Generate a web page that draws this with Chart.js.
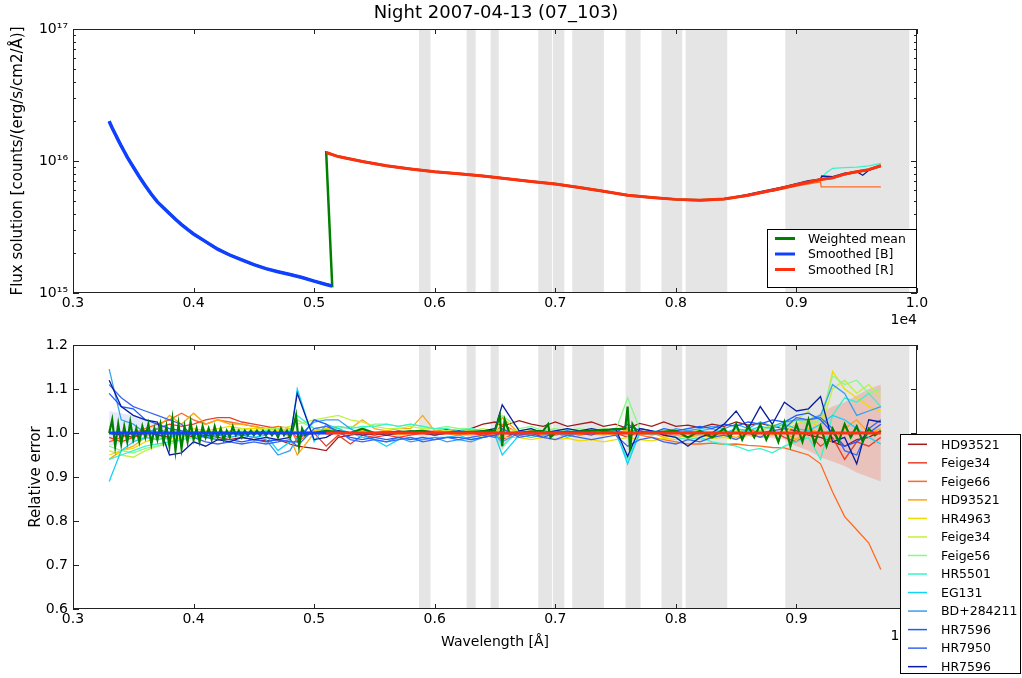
<!DOCTYPE html>
<html>
<head>
<meta charset="utf-8">
<script src="https://cdn.jsdelivr.net/npm/chart.js@4.4.1/dist/chart.umd.min.js"></script>
<style>
  html, body { margin: 0; padding: 0; background: #fff; }
  #wrap { position: relative; width: 1022px; height: 678px; }
  canvas { position: absolute; left: 0; }
  #fluxChart { top: 0; }
  #errChart { top: 330px; }
</style>
</head>
<body>
<div id="wrap">
  <canvas id="fluxChart" width="1022" height="330"></canvas>
  <canvas id="errChart" width="1022" height="348"></canvas>
</div>
<script>
// masked (telluric) regions, in Angstrom
var maskedBands = [[5870, 5965], [6265, 6339], [6464, 6531], [6859, 6972], [6980, 7075],
                   [7141, 7403], [7583, 7707], [7881, 8053], [8081, 8426], [8908, 9936]];

// ---- top panel: flux solution ----
var smoothBWave = [3300, 3325, 3350, 3375, 3400, 3425, 3450, 3475, 3500, 3550,
                   3600, 3650, 3700, 3750, 3800, 3850, 3900, 3950, 4000, 4100,
                   4200, 4300, 4400, 4500, 4600, 4700, 4800, 4900, 5000, 5100, 5150];
var smoothBFlux = [2.0e16, 1.78e16, 1.6e16, 1.44e16, 1.3e16, 1.18e16, 1.07e16, 9.8e15, 9.0e15, 7.6e15,
                   6.5e15, 5.6e15, 4.9e15, 4.43e15, 4.0e15, 3.62e15, 3.3e15, 3.03e15, 2.8e15, 2.45e15,
                   2.15e15, 1.94e15, 1.78e15, 1.64e15, 1.53e15, 1.45e15, 1.38e15, 1.31e15, 1.23e15, 1.16e15, 1.13e15];
var smoothRWave = [5100, 5200, 5400, 5600, 5800, 6000, 6200, 6400, 6600, 6800, 7000, 7200, 7400, 7600,
                   7800, 8000, 8200, 8400, 8600, 8800, 9000, 9200, 9300, 9400, 9500, 9600, 9700];
var smoothRFlux = [1.16e16, 1.08e16, 9.9e15, 9.2e15, 8.7e15, 8.3e15, 8.0e15, 7.7e15, 7.35e15, 7.0e15,
                   6.7e15, 6.3e15, 5.9e15, 5.5e15, 5.3e15, 5.12e15, 5.05e15, 5.15e15, 5.5e15, 6.0e15,
                   6.6e15, 7.25e15, 7.45e15, 7.95e15, 8.3e15, 8.6e15, 9.2e15];
var topFeige66Wave = [8800, 9000, 9200, 9205, 9700];
var topFeige66Flux = [5.9e15, 6.45e15, 6.95e15, 6.37e15, 6.37e15];
var topHR5501Wave = [9200, 9250, 9300, 9400, 9500, 9600, 9700];
var topHR5501Flux = [7.3e15, 8.2e15, 8.8e15, 8.9e15, 9.0e15, 9.2e15, 9.6e15];
var topHR7596Wave = [8500, 8700, 8900, 9100, 9200, 9210, 9300, 9400, 9500, 9550, 9600, 9700];
var topHR7596Flux = [5.35e15, 5.85e15, 6.4e15, 7.1e15, 7.3e15, 7.7e15, 7.6e15, 8.1e15, 8.3e15, 7.8e15, 8.5e15, 9.2e15];

// ---- bottom panel: relative error per standard star ----
var gridWave = [3300, 3400, 3500, 3600, 3700, 3800, 3900, 4000, 4100, 4200,
                4300, 4400, 4500, 4600, 4700, 4800, 4860, 5000, 5100, 5200,
                5300, 5400, 5500, 5600, 5700, 5800, 5900, 6000, 6100, 6200,
                6300, 6400, 6500, 6560, 6700, 6800, 6900, 7000, 7100, 7200,
                7300, 7400, 7500, 7600, 7700, 7800, 7900, 8000, 8100, 8200,
                8300, 8400, 8500, 8600, 8700, 8800, 8900, 9000, 9100, 9200,
                9300, 9400, 9500, 9600, 9700];

var starNames = ["HD93521", "Feige34", "Feige66", "HD93521", "HR4963", "Feige34", "Feige56",
                 "HR5501", "EG131", "BD+284211", "HR7596", "HR7950", "HR7596"];
var starColors = ["#a31a1a", "#e8402a", "#ff6a20", "#ffa510", "#f0dc00", "#c4f040", "#88f888",
                  "#38f4c8", "#10d4f8", "#38a0f0", "#1c5cff", "#3a66f0", "#0a1ea0"];

// offsets from 1, in percent
var errHD93521a = [0, -0.5, -1, 0.5, -0.5, -1, 0, -1, -0.5, -1,
                   -1.5, -1, -1.5, -1.8, -1.5, -2.5, -3, -3.5, -4, -1,
                   -0.5, 0, -0.5, 0, 0.5, 0, 0.5, 0.3, 0.8, 0.5,
                   1, 2, 2.5, 1.5, 2.8, 2, 1.5, 2.5, 1.5, 2,
                   2.5, 1.5, 2, 1, 2.2, 1.5, 2.5, 1.5, 1.8, 1.2,
                   2, 1.5, 2.5, 1.8, 2.2, 1.5, 1, 0.5, -0.5, -1,
                   -2, -3, -1.5, -1, 0.5];
var errFeige34a = [-1, -2, -1, 0, 1, 2, 1.5, 2, 3, 3.5,
                   3.5, 2.5, 2, 1.5, 1, 0.5, -1, 0, -3, -0.5,
                   -2.5, -0.5, -1, -0.5, -1, -0.5, 0, -0.5, 0, -0.5,
                   0, -0.5, 0, -1.5, 0.5, 0, -0.5, 0.5, 0, -0.5,
                   0, 0.5, 0, -1, 0.5, 0, -0.5, 0, 0.5, 0,
                   -0.5, 0.5, 0, 1, 0, 0.5, -1, -2, 0, -3,
                   -1, -6, -2, -3, -1];
var errFeige66 = [-2, -1, 0, 1, 2, 3, 4.5, 3, 2, 3,
                  2.5, 2, 1.5, 1, 1.5, 1, -2, 0.5, 1, 0.5,
                  0, 0.5, 0, 0.5, 0, 0.3, 0, 0.5, 0, -0.5,
                  0, 0.5, 0, 2, 0, 0.5, 0, -0.5, 0, 0.5,
                  0, -0.5, 0, 0.5, -0.5, -1, -1.5, -2, -2.5, -2.5,
                  -2.3, -2.6, -2.5, -2.8, -3, -3.3, -3.4, -4.2, -5, -7,
                  -13.4, -19, -22, -25, -31];
var errHD93521b = [-6, -4, -3, -1, 1, 4, 2, 4.5, 2, 3,
                   2, 2, 1.5, 1, 1, -1, -5, 0, 1, 1.5,
                   1, 3, 1, 0.5, 1, 1, 4, 0.5, 0.5, 0,
                   0.5, 0, 1, 3.5, 0, 0.5, -0.5, 0, 0.5, -0.5,
                   0, 0.5, -0.5, 1, -0.5, 0, -1, -0.5, -1, -0.5,
                   -1, -0.5, -1, 0, -1, -0.5, 0, -1.5, 1, 0,
                   -2, 1, 3, 0, 1];
var errHR4963 = [-5, -4, -3.5, -2, -1, -1.5, 0, 1, 0.5, 1,
                 1.5, 1, 1, 1, 0.5, 1, 0, 0.5, 1, 0.5,
                 0, 0.5, 0, 0, -0.5, 0, 0, -0.5, 0, -0.5,
                 -0.5, -1, -0.5, -1, -1, -1.5, -1, -1.5, -1.2, -1.8,
                 -1.5, -2, -1.5, -1, -1.5, -1.8, -1.2, -1.5, -1, -1.5,
                 -1.2, -1, -1.5, -0.5, -1, -0.5, 0, 2, 3, 1,
                 14, 10, 8, 6, 5];
var errFeige34b = [-4, -5, -5.5, -4, -3, -2, -1, 0, 0.5, 0,
                   0.5, 1, 0.5, 1, 1, 1.5, 2, 3, 3.5, 4,
                   3, 2.5, 1.5, 1, 1, 1.5, 1, 1, 0.5, 1,
                   0.5, 1, 0.5, 1, 0.5, 0, 0.5, 1, 0, 0.5,
                   0, -0.5, 0, 0.5, 0, -0.5, 0, 0.5, 1, 0.5,
                   0, -1, 0.5, 1, 0.5, 2, 1, 3, 5, 1,
                   10, 12, 9, 11, 8];
var errFeige56 = [-3, -4, -4.5, -3.5, -3, -2.5, -1.5, -1, 0, -0.5,
                  0, 0.5, 0, 0.5, 1, 0.5, 3, 1, 1.5, 1,
                  1.5, 1, 2, 2, 1.5, 2, 1.5, 1, 1.5, 1,
                  1, 0.5, 1, 4, 1, 1.5, 0.5, 1, 0.5, 1,
                  0.5, 1, 0.5, 8, 1, 0.5, 0, 0.5, 0, -0.5,
                  0, 0.5, 0, 1, 0.5, 1.5, 2, 3, 2, 3,
                  13, 11, 12, 9, 10];
var errHR5501 = [-6, -5, -4, -3, -2.5, -2, -1.5, -1, -1, -0.5,
                 0, -0.5, 0, 0.5, 0, 0.5, 4, 1, 0.5, 1.5,
                 1, 1.5, 1.5, 2, 1.5, 2, 1.5, 1, 1, 0.5,
                 1, 0.5, 0.5, -3, 0.5, 1, 0, 0.5, 1, 0.5,
                 0, 0.5, 0, -6, 0, -0.5, 0, -1, -1.5, -1,
                 -2, -2.5, -3, -4, -3.5, -4.5, -3, -2, -1, -6,
                 4, 8, 7, 9, 6];
var errEG131 = [-11, -4, -2, -1, -1.5, -1, 0, -0.5, 0, -0.5,
                0, -0.5, -1, -0.5, -4, -2, 10, -2, 2, 1,
                0, -1, -1.5, -3, -1.5, -1, -1.5, -1, -1, -0.5,
                -1.5, -1, -0.5, -5, -0.5, -1, -0.5, 0, -1, 0,
                0.5, 0, 0.5, -7, 0, 0.5, 0, 0.5, 0, 0.5,
                1, 0, 1, 0.5, 1.5, 1, 2, 1, 0.5, 2,
                4, 3, 1, -1, -2.5];
var errBD284211 = [14.5, 3, 2, 0, 1, 0, -0.5, 0, -1, -0.5,
                   -1, -0.5, -1, -1.5, -5, -4, -1, 2.5, 3, 3,
                   1, -0.5, -1.5, -2, -1, -2, -1.5, -1, -2, -1.5,
                   -2, -1, -0.5, -2, 0, -0.5, 0.5, 0, -0.5, 0,
                   0.5, 0, 0.5, 0, 1, 0.5, 0, 1, 0.5, 1,
                   1.5, 1, 2, 1, 2.5, 1.5, 2.5, 3, 3, 4,
                   11, 9, 4, 5, 6];
var errHR7596a = [9, 6, 5.5, 3, 2, 1, 0.5, 0, -1, -1.5,
                  -1.5, -2, -1.5, -2, -1.5, -2, -2, 3, 2, 0,
                  -1, -1.5, -1, -1.5, -1, -1.5, -1, -1.5, -1, -1,
                  -1.5, -1, -0.5, 0, -0.5, 0, -1, 0, 0.5, 0,
                  -0.5, 0.5, 0, 2, 0.5, 0, 1, 0.5, 1, 1.5,
                  1, 2, 1.5, 2.5, 2, 3, 2.5, 4, 4.5, 3,
                  0, -3, -2, 0, 2];
var errHR7950 = [11, 8, 6, 5, 4, 3, 2, -1, -2, -2.5,
                 -2, -2.5, -2, -2.5, -2, -1.5, -3, 1, 1.5, 0.5,
                 -1.5, -2, -1.5, -2, -1.5, -1, -2, -1.5, -1, -1.5,
                 -1, -0.5, -1, 1, -1, -0.5, -1, -1.5, -0.5, -1,
                 -1.5, -1, -0.5, -3, -1.5, -1, -2, -2.5, -1.5, -2,
                 -1, -0.5, -1.5, 0, -1, 0.5, 1, 3.5, 3, 3.5,
                 1, -4, -5, 1, 3];
var errHR7596b = [12, 6, 4, 3, 2.5, -5, -4.5, -2, -3, -1.5,
                  -2, -1, -1.5, -1, -1.5, -1, 9, -1.5, -1, 0.5,
                  0, -0.5, 0, -0.5, 0, 0.5, 0, -0.5, 0, 0.5,
                  0, 0.5, 1, 6.4, 0.5, 1, 0, 0.5, 1, 0.5,
                  1, 0.5, 1, -5.3, 1, 0.5, -0.5, -1, -3, -1,
                  0, 2, 5, 1, 6, 2, 7, 5, 5.5, 8.3,
                  -2, -1, -7, 3, 2.5];

// weighted mean ratio: spiky, on its own finer sampling (percent offsets)
var meanWave = [3300, 3325, 3350, 3375, 3400, 3425, 3450, 3475, 3500, 3525,
                3550, 3575, 3600, 3625, 3650, 3675, 3700, 3725, 3750, 3775,
                3800, 3825, 3850, 3875, 3900, 3925, 3950, 3975, 4000, 4025,
                4050, 4075, 4100, 4125, 4150, 4175, 4200, 4225, 4250, 4275,
                4300, 4325, 4350, 4375, 4400, 4425, 4450, 4475, 4500, 4525,
                4550, 4575, 4600, 4625, 4650, 4675, 4700, 4725, 4750, 4775,
                4800, 4825, 4850, 4875, 4900, 4925, 4950,
                5000, 5100, 5300, 5400, 5500, 5900, 6000, 6500, 6540, 6560,
                6580, 6620, 6900, 6940, 6960, 7000, 7580, 7600, 7620, 7640,
                7680, 8000, 8100, 8200, 8300, 8400, 8450, 8500, 8550, 8600,
                8650, 8700, 8750, 8800, 8850, 8900, 8950, 9000, 9050, 9100,
                9150, 9200, 9250, 9300, 9350, 9400, 9450, 9500, 9550, 9600,
                9650, 9700];
var meanErr = [0, 3, -3, 2, -2.5, 1.5, -2, 2.5, -1.5, 1,
               -2, 1.5, -1, 2, -2.5, 1, -1.5, 2, -2, 1.5,
               -3, 3, -4, 2, -3.5, 1.5, -2, 2.5, -1.5, 1,
               -2, 1.5, -1, 1, -1.5, 1.5, -1, 1, -1.5, 0.5,
               -1, 1.5, -0.5, 0.5, -1, 0.5, -0.5, 0.5, -0.5, 0.5,
               -0.5, 0.5, -0.5, 0.5, -0.5, 0.5, -1, 1, -0.5, 0.5,
               -1, 1, 4, -3, 1, -0.5, 0,
               0, 0.5, 0, 1, 0, 0.5, 0, 0.5, 4, -3,
               3, 0, 0.5, 2, -1, 0, 1, 6, -4, 2,
               0, 0.5, -1, 0.5, -1, 1, -1, 2, -1.5, 1.5,
               -1, 2, -1.5, 1.5, -2, 2.5, -3, 2, -2, 3,
               -2.5, 1.5, -3, 1, -2, 2, -1, 1.5, -2, 1,
               -0.5, 0.5];

// smoothed curves sit at 1 in the ratio plot, with their error bands
var ratioBWave = [3300, 5150];
var ratioBVal = [1, 1];
var ratioRWave = [5100, 9700];
var ratioRVal = [1, 1];
var bandBWave = [3300, 3400, 3500, 3600, 3700, 3800, 4000, 4300, 5150];
var bandBHi = [1.05, 1.045, 1.04, 1.03, 1.02, 1.01, 1.005, 1.003, 1.003];
var bandBLo = [0.97, 0.975, 0.98, 0.985, 0.99, 0.995, 0.997, 0.997, 0.997];
var bandRWave = [5100, 6400, 6500, 6560, 6650, 7500, 7600, 7700, 8500, 8900, 9000, 9100, 9200, 9300, 9400, 9500, 9600, 9700];
var bandRHi = [1.003, 1.003, 1.005, 1.01, 1.003, 1.003, 1.01, 1.003, 1.005, 1.01, 1.02, 1.03, 1.045, 1.06, 1.07, 1.085, 1.1, 1.11];
var bandRLo = [0.997, 0.997, 0.99, 0.96, 0.997, 0.997, 0.99, 0.997, 0.995, 0.985, 0.97, 0.96, 0.945, 0.935, 0.925, 0.91, 0.9, 0.89];

var FONT = "'DejaVu Sans', sans-serif";
Chart.defaults.font.family = FONT;
Chart.defaults.color = "#000";

function pts(xs, ys) {
    return xs.map(function (x, i) { return { x: x, y: ys[i] }; });
}
function line(label, xs, ys, color, width, order) {
    return { label: label, data: pts(xs, ys), borderColor: color, borderWidth: width,
             pointRadius: 0, fill: false, tension: 0, order: order };
}

var bandsPlugin = {
    id: "bands",
    beforeDatasetsDraw: function (chart) {
        var ctx = chart.ctx, a = chart.chartArea, xs = chart.scales.x;
        ctx.save();
        ctx.fillStyle = "#e5e5e5";
        maskedBands.forEach(function (b) {
            var x0 = xs.getPixelForValue(b[0]), x1 = xs.getPixelForValue(b[1]);
            ctx.fillRect(x0, a.top, x1 - x0, a.bottom - a.top);
        });
        ctx.restore();
    }
};

// matplotlib-like frame with inward ticks, legend box and loose texts
var decorPlugin = {
    id: "decor",
    afterDraw: function (chart, args, opts) {
        var ctx = chart.ctx, a = chart.chartArea, xs = chart.scales.x, ys = chart.scales.y;
        ctx.save();
        ctx.strokeStyle = "#222";
        ctx.lineWidth = 1;
        ctx.strokeRect(a.left + 0.5, a.top + 0.5, a.right - a.left - 1, a.bottom - a.top - 1);
        ctx.beginPath();
        xs.ticks.forEach(function (t) {
            var px = Math.round(xs.getPixelForValue(t.value)) + 0.5;
            ctx.moveTo(px, a.bottom); ctx.lineTo(px, a.bottom - 5);
            ctx.moveTo(px, a.top); ctx.lineTo(px, a.top + 5);
        });
        ys.ticks.forEach(function (t) {
            var py = Math.round(ys.getPixelForValue(t.value)) + 0.5;
            ctx.moveTo(a.left, py); ctx.lineTo(a.left + 6, py);
            ctx.moveTo(a.right, py); ctx.lineTo(a.right - 6, py);
        });
        (opts.minorY || []).forEach(function (v) {
            var py = Math.round(ys.getPixelForValue(v)) + 0.5;
            ctx.moveTo(a.left, py); ctx.lineTo(a.left + 3, py);
            ctx.moveTo(a.right, py); ctx.lineTo(a.right - 3, py);
        });
        ctx.stroke();

        ctx.fillStyle = "#000";
        (opts.texts || []).forEach(function (t) {
            ctx.save();
            ctx.font = t.size + "px " + FONT;
            ctx.textAlign = t.align || "center";
            ctx.textBaseline = "middle";
            ctx.translate(t.x, t.y);
            if (t.rotate) ctx.rotate(-Math.PI / 2);
            ctx.fillText(t.text, 0, 0);
            ctx.restore();
        });

        var lg = opts.legend;
        if (lg) {
            ctx.fillStyle = "#fff";
            ctx.fillRect(lg.box[0], lg.box[1], lg.box[2], lg.box[3]);
            ctx.strokeStyle = "#000";
            ctx.strokeRect(lg.box[0] + 0.5, lg.box[1] + 0.5, lg.box[2], lg.box[3]);
            ctx.font = lg.size + "px " + FONT;
            ctx.textAlign = "left";
            ctx.textBaseline = "middle";
            lg.labels.forEach(function (lab, i) {
                var y = lg.row0 + i * lg.step;
                ctx.strokeStyle = lg.colors[i];
                ctx.lineWidth = lg.width;
                ctx.beginPath();
                ctx.moveTo(lg.lineX[0], y); ctx.lineTo(lg.lineX[1], y);
                ctx.stroke();
                ctx.fillStyle = "#000";
                ctx.fillText(lab, lg.textX, y + 1);
            });
        }
        ctx.restore();
    }
};

var xAxis = function (h) {
    return {
        type: "linear", min: 3000, max: 10000,
        ticks: { stepSize: 1000, autoSkip: false, maxRotation: 0, padding: 2,
                 font: { size: 14 }, callback: function (v) { return (v / 1e4).toFixed(1); } },
        grid: { display: false, drawTicks: false }, border: { display: false },
        afterFit: function (s) { s.height = h; }
    };
};

var sup = { "15": "10\u00b9\u2075", "16": "10\u00b9\u2076", "17": "10\u00b9\u2077" };
var minorLog = [];
[1e15, 1e16].forEach(function (d) { for (var k = 2; k < 10; k++) minorLog.push(k * d); });

// ---------- top chart ----------
var topSets = [
    line("Smoothed [R]", smoothRWave, smoothRFlux, "#ff3010", 3, 1),
    line("Smoothed [B]", smoothBWave, smoothBFlux, "#1040ff", 3.5, 2),
    line("Weighted mean", smoothBWave.concat(smoothRWave), smoothBFlux.concat(smoothRFlux), "#008000", 2.5, 3),
    line("HR7596", topHR7596Wave, topHR7596Flux, starColors[12], 1.3, 10),
    line("HR5501", topHR5501Wave, topHR5501Flux, starColors[7], 1.3, 11),
    line("Feige66", topFeige66Wave, topFeige66Flux, starColors[2], 1.3, 12)
];

new Chart(document.getElementById("fluxChart"), {
    type: "line",
    data: { datasets: topSets },
    options: {
        responsive: false, animation: false, devicePixelRatio: 1,
        layout: { padding: { left: 0, right: 105, top: 29, bottom: 0 } },
        scales: {
            x: xAxis(37),
            y: {
                type: "logarithmic", min: 1e15, max: 1e17,
                afterBuildTicks: function (s) { s.ticks = [1e15, 1e16, 1e17].map(function (v) { return { value: v }; }); },
                ticks: { padding: 5, font: { size: 14 },
                         callback: function (v) { return sup[String(Math.round(Math.log10(v)))]; } },
                grid: { display: false, drawTicks: false }, border: { display: false },
                afterFit: function (s) { s.width = 73; }
            }
        },
        plugins: {
            legend: { display: false }, tooltip: { enabled: false },
            decor: {
                minorY: minorLog,
                texts: [
                    { text: "Night 2007-04-13 (07_103)", x: 496, y: 13, size: 18 },
                    { text: "Flux solution [counts/(erg/s/cm2/\u00c5)]", x: 18, y: 161, size: 15, rotate: true },
                    { text: "1e4", x: 917, y: 320, size: 14, align: "right" }
                ],
                legend: { box: [767, 229, 149, 58], size: 12.4, width: 3, lineX: [775, 795], textX: 808,
                          row0: 238.5, step: 15.5,
                          labels: ["Weighted mean", "Smoothed [B]", "Smoothed [R]"],
                          colors: ["#008000", "#1040ff", "#ff3010"] }
            }
        }
    },
    plugins: [bandsPlugin, decorPlugin]
});

// ---------- bottom chart ----------
var starErr = [errHD93521a, errFeige34a, errFeige66, errHD93521b, errHR4963, errFeige34b, errFeige56,
               errHR5501, errEG131, errBD284211, errHR7596a, errHR7950, errHR7596b];
var pct = function (arr) { return arr.map(function (d) { return 1 + d / 100; }); };

var botSets = [
    line("Smoothed [R]", ratioRWave, ratioRVal, "#ff3010", 3, 1),
    line("Smoothed [B]", ratioBWave, ratioBVal, "#1040ff", 3, 2),
    line("Weighted mean", meanWave, pct(meanErr), "#008000", 2.2, 3)
];
starErr.forEach(function (e, i) {
    botSets.push(line(starNames[i], gridWave, pct(e), starColors[i], 1.3, 100 - i));
});
botSets.push({ label: "bandRhi", data: pts(bandRWave, bandRHi), borderWidth: 0, borderColor: "transparent",
               pointRadius: 0, backgroundColor: "rgba(240,120,100,0.32)", fill: "+1", order: 200 });
botSets.push({ label: "bandRlo", data: pts(bandRWave, bandRLo), borderWidth: 0, borderColor: "transparent",
               pointRadius: 0, fill: false, order: 201 });
botSets.push({ label: "bandBhi", data: pts(bandBWave, bandBHi), borderWidth: 0, borderColor: "transparent",
               pointRadius: 0, backgroundColor: "rgba(90,100,255,0.15)", fill: "+1", order: 202 });
botSets.push({ label: "bandBlo", data: pts(bandBWave, bandBLo), borderWidth: 0, borderColor: "transparent",
               pointRadius: 0, fill: false, order: 203 });

new Chart(document.getElementById("errChart"), {
    type: "line",
    data: { datasets: botSets },
    options: {
        responsive: false, animation: false, devicePixelRatio: 1,
        layout: { padding: { left: 0, right: 105, top: 15, bottom: 0 } },
        scales: {
            x: xAxis(69),
            y: {
                type: "linear", min: 0.6, max: 1.2,
                ticks: { stepSize: 0.1, padding: 5, font: { size: 14 },
                         callback: function (v) { return v.toFixed(1); } },
                grid: { display: false, drawTicks: false }, border: { display: false },
                afterFit: function (s) { s.width = 73; }
            }
        },
        plugins: {
            legend: { display: false }, tooltip: { enabled: false },
            decor: {
                texts: [
                    { text: "Relative error", x: 36, y: 147, size: 15, rotate: true },
                    { text: "Wavelength [\u00c5]", x: 495, y: 312, size: 14 },
                    { text: "1e4", x: 917, y: 306, size: 14, align: "right" }
                ],
                legend: { box: [900, 104, 120, 239], size: 12.5, width: 1.5, lineX: [908, 927], textX: 941,
                          row0: 114.3, step: 18.53, labels: starNames, colors: starColors }
            }
        }
    },
    plugins: [bandsPlugin, decorPlugin]
});
</script>
</body>
</html>
